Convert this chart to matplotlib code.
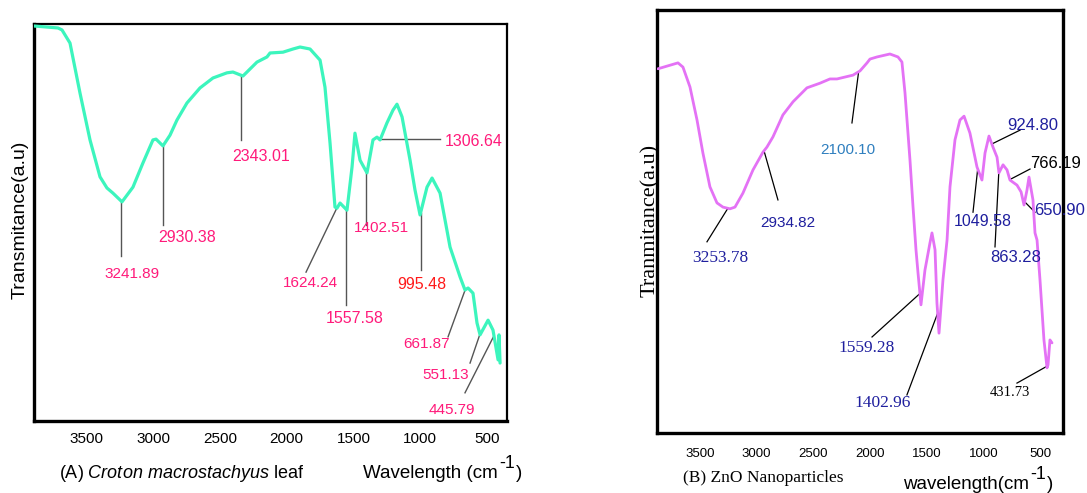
import numpy as np
import matplotlib
matplotlib.use("Agg")
import matplotlib.pyplot as plt

plt.rcParams['font.family'] = ['Liberation Sans', 'DejaVu Sans']
plt.rcParams['mathtext.fontset'] = 'custom'
plt.rcParams['mathtext.rm'] = 'Liberation Sans'
plt.rcParams['mathtext.it'] = 'Liberation Sans:italic'

# ---------------- data: (A) Croton macrostachyus leaf ----------------
leaf_wn = [3895, 3715, 3685, 3625, 3550, 3475, 3400, 3348, 3303, 3235, 3153, 3078, 3003, 2980,
           2928, 2875, 2823, 2748, 2650, 2553, 2448, 2403, 2328, 2223, 2148, 2125, 2028, 1953,
           1900, 1825, 1750, 1713, 1675, 1638, 1623, 1600, 1548, 1510, 1488, 1450, 1398, 1353,
           1323, 1300, 1248, 1203, 1173, 1135, 1075, 1038, 1000, 948, 910, 850, 775, 700, 663,
           640, 603, 573, 550, 490, 453, 415, 408, 400]
leaf_T = [99.5, 99.0, 98.5, 95.2, 82.6, 70.8, 61.5, 58.7, 57.4, 55.2, 58.9, 65.0, 70.8, 71.0,
          69.3, 72.0, 75.8, 80.1, 83.9, 86.4, 87.7, 87.9, 86.9, 90.4, 91.7, 92.7, 92.9, 93.7,
          94.2, 93.7, 90.9, 84.1, 70.0, 53.9, 53.6, 54.9, 53.1, 64.0, 72.5, 65.7, 62.5, 70.8,
          71.5, 70.8, 75.1, 78.3, 79.8, 76.6, 65.7, 58.2, 51.9, 58.9, 61.2, 57.4, 43.8, 36.3, 33.0,
          33.5, 32.2, 24.7, 21.7, 25.4, 22.9, 15.4, 21.7, 14.6]
leaf_peaks = ["3241.89", "2930.38", "2343.01", "1624.24", "1557.58", "1402.51", "1306.64",
              "995.48", "661.87", "551.13", "445.79"]

# ---------------- data: (B) ZnO nanoparticles ----------------
zno_wn = [3871, 3694, 3650, 3588, 3526, 3474, 3412, 3350, 3297, 3235, 3191, 3121, 3032, 2944,
          2909, 2856, 2768, 2679, 2556, 2441, 2353, 2291, 2150, 2088, 2026, 2000, 1938, 1824,
          1753, 1718, 1691, 1647, 1620, 1594, 1576, 1550, 1515, 1471, 1453, 1426, 1409, 1391,
          1356, 1320, 1294, 1250, 1206, 1170, 1118, 1056, 1012, 985, 950, 915, 879, 862, 826,
          791, 765, 703, 667, 641, 615, 597, 562, 544, 526, 500, 465, 438, 429, 412, 394]
zno_T = [86.1, 87.5, 86.5, 81.8, 74.0, 66.2, 58.2, 54.4, 53.4, 53.0, 53.4, 56.7, 62.2, 66.4,
         67.6, 70.0, 75.2, 78.3, 81.6, 82.7, 83.7, 83.7, 84.6, 85.6, 87.5, 88.4, 88.9, 89.6,
         88.9, 87.7, 80.4, 64.5, 53.4, 43.3, 37.8, 30.3, 38.5, 44.9, 47.3, 43.3, 30.7, 23.6,
         36.2, 45.6, 58.2, 69.3, 74.0, 74.9, 70.9, 62.9, 59.8, 66.2, 70.2, 67.6, 65.2, 61.5, 63.4,
         62.2, 59.8, 58.6, 57.0, 53.9, 57.4, 60.5, 55.1, 47.3, 45.6, 36.2, 22.0, 15.4, 16.1,
         22.0, 21.3]
zno_peaks = ["3253.78", "2934.82", "2100.10", "1559.28", "1402.96", "1049.58", "924.80",
             "863.28", "766.19", "650.90", "431.73"]

xticks = [3500, 3000, 2500, 2000, 1500, 1000, 500]

# ---------------- annotation layout (leader end, text centre, style) ----------------
PINK = '#ff1a7a'
RED = '#ff1a1a'
NAVY = '#1f1f9e'
STEEL = '#2f7fbf'

leaf_layout = [
    # end_x, end_y, text_x, text_y, color, ha
    (None, 41.6, 3160, 37.0, PINK, 'center'),
    (None, 49.4, 2748, 46.1, PINK, 'center'),
    (None, 70.8, 2193, 66.5, PINK, 'center'),
    (1855, 37.5, 1825, 34.8, PINK, 'center'),
    (None, 29.2, 1488, 25.9, PINK, 'center'),
    (None, 49.4, 1293, 48.6, PINK, 'center'),
    (850, None, 813, 70.5, PINK, 'left'),
    (None, 38.0, 985, 34.5, RED, 'center'),
    (790, 21.2, 948, 19.4, PINK, 'center'),
    (625, 14.6, 805, 11.6, PINK, 'center'),
    (663, 7.1, 760, 2.8, PINK, 'center'),
]
leaf_fs = [11, 11.5, 11.5, 11, 11.5, 11, 11.5, 11.5, 11, 11, 11]

zno_layout = [
    # end_x, end_y, text_x, text_y, color, family, size
    (3438, 45.2, 3324, 41.4, NAVY, 'Liberation Serif', 12.5),
    (2812, 55.1, 2723, 49.6, NAVY, 'Liberation Sans', 11),
    (2159, 73.3, 2194, 66.9, STEEL, 'Liberation Sans', 11),
    (1982, 22.7, 2027, 20.1, NAVY, 'Liberation Serif', 12.5),
    (1674, 9.0, 1885, 7.1, NAVY, 'Liberation Serif', 12.5),
    (1091, 52.2, 1003, 50.1, NAVY, 'Liberation Sans', 11.5),
    (676, 71.6, 562, 72.8, NAVY, 'Liberation Sans', 12),
    (897, 44.0, 712, 41.4, NAVY, 'Liberation Sans', 12),
    (588, 62.4, 367, 63.6, 'black', 'Liberation Sans', 12),
    (544, 52.2, 323, 52.5, NAVY, 'Liberation Sans', 12),
    (703, 11.8, 765, 9.5, 'black', 'Liberation Serif', 10.5),
]

W, H = 1087, 493
fig = plt.figure(figsize=(W / 100, H / 100), dpi=100)
renderer = fig.canvas.get_renderer()

def box(l, t, r, b):
    return [l / W, 1 - b / H, (r - l) / W, (b - t) / H]

def unit_label(x_px, y_px, main, size):
    """'main' + superscript '-1' + ')' written as consecutive real text pieces."""
    t1 = fig.text(x_px / W, 1 - y_px / H, main, fontsize=size, ha='left', va='baseline')
    w1 = t1.get_window_extent(renderer).width
    t2 = fig.text((x_px + w1 + 1) / W, 1 - (y_px - size * 0.75) / H, '-1',
                  fontsize=size * 0.95, ha='left', va='baseline')
    w2 = t2.get_window_extent(renderer).width
    fig.text((x_px + w1 + w2 + 2) / W, 1 - y_px / H, ')', fontsize=size,
             ha='left', va='baseline')

# ---------------- panel A ----------------
axA = fig.add_axes(box(34, 24, 507, 421))
axA.plot(leaf_wn, leaf_T, color='#3cf5bd', lw=2.3, solid_capstyle='round',
         solid_joinstyle='round', zorder=3)
axA.set_xlim(3895, 348)
axA.set_ylim(0, 100)
axA.set_xticks(xticks)
axA.set_xticklabels([str(t) for t in xticks], fontsize=11)
axA.set_yticks([])
axA.tick_params(axis='x', length=0, pad=8)
for side, lw in [('left', 2.4), ('bottom', 2.4), ('top', 1.6), ('right', 1.6)]:
    axA.spines[side].set_linewidth(lw)

wnA = np.array(leaf_wn)[::-1]
TA = np.array(leaf_T)[::-1]
for lab, (ex, ey, tx, ty, col, ha), fs in zip(leaf_peaks, leaf_layout, leaf_fs):
    px = float(lab)
    py = float(np.interp(px, wnA, TA))
    ex2 = px if ex is None else ex
    ey2 = py if ey is None else ey
    axA.plot([px, ex2], [py, ey2], color='#555555', lw=1.0, zorder=2)
    axA.text(tx, ty, lab, color=col, fontsize=fs, ha=ha, va='center')

fig.text(20 / W, 1 - 220 / H, 'Transmitance(a.u)', rotation=90, fontsize=14,
         ha='center', va='center')
fig.text(59 / W, 1 - 473 / H, r'(A) $\mathit{Croton\ macrostachyus}$ leaf', fontsize=13,
         ha='left', va='center')
unit_label(363, 478, 'Wavelength (cm', 13.5)

# ---------------- panel B ----------------
axB = fig.add_axes(box(657, 10, 1063, 433))
axB.plot(zno_wn, zno_T, color='#e472f5', lw=2.0, solid_capstyle='round',
         solid_joinstyle='round', zorder=3)
axB.set_xlim(3879, 297)
axB.set_ylim(0, 100)
axB.set_xticks(xticks)
axB.set_xticklabels([str(t) for t in xticks], fontsize=9.5)
axB.set_yticks([])
axB.tick_params(axis='x', length=0, pad=11)
for side in ['left', 'bottom', 'top', 'right']:
    axB.spines[side].set_linewidth(2.4)

wnB = np.array(zno_wn)[::-1]
TB = np.array(zno_T)[::-1]
for lab, (ex, ey, tx, ty, col, fam, fs) in zip(zno_peaks, zno_layout):
    px = float(lab)
    py = float(np.interp(px, wnB, TB))
    axB.plot([px, ex], [py, ey], color='black', lw=0.9, zorder=2)
    axB.text(tx, ty, lab, color=col, fontsize=fs, family=fam, ha='center', va='center')

fig.text(650 / W, 1 - 220 / H, 'Tranmitance(a.u)', rotation=90, fontsize=16,
         family='Liberation Serif', ha='center', va='center', zorder=0)
fig.text(683 / W, 1 - 478 / H, '(B) ZnO Nanoparticles', fontsize=12.5,
         family='Liberation Serif', ha='left', va='center')
unit_label(903, 489, 'wavelength(cm', 13.5)

fig.savefig('out.png', dpi=100)
